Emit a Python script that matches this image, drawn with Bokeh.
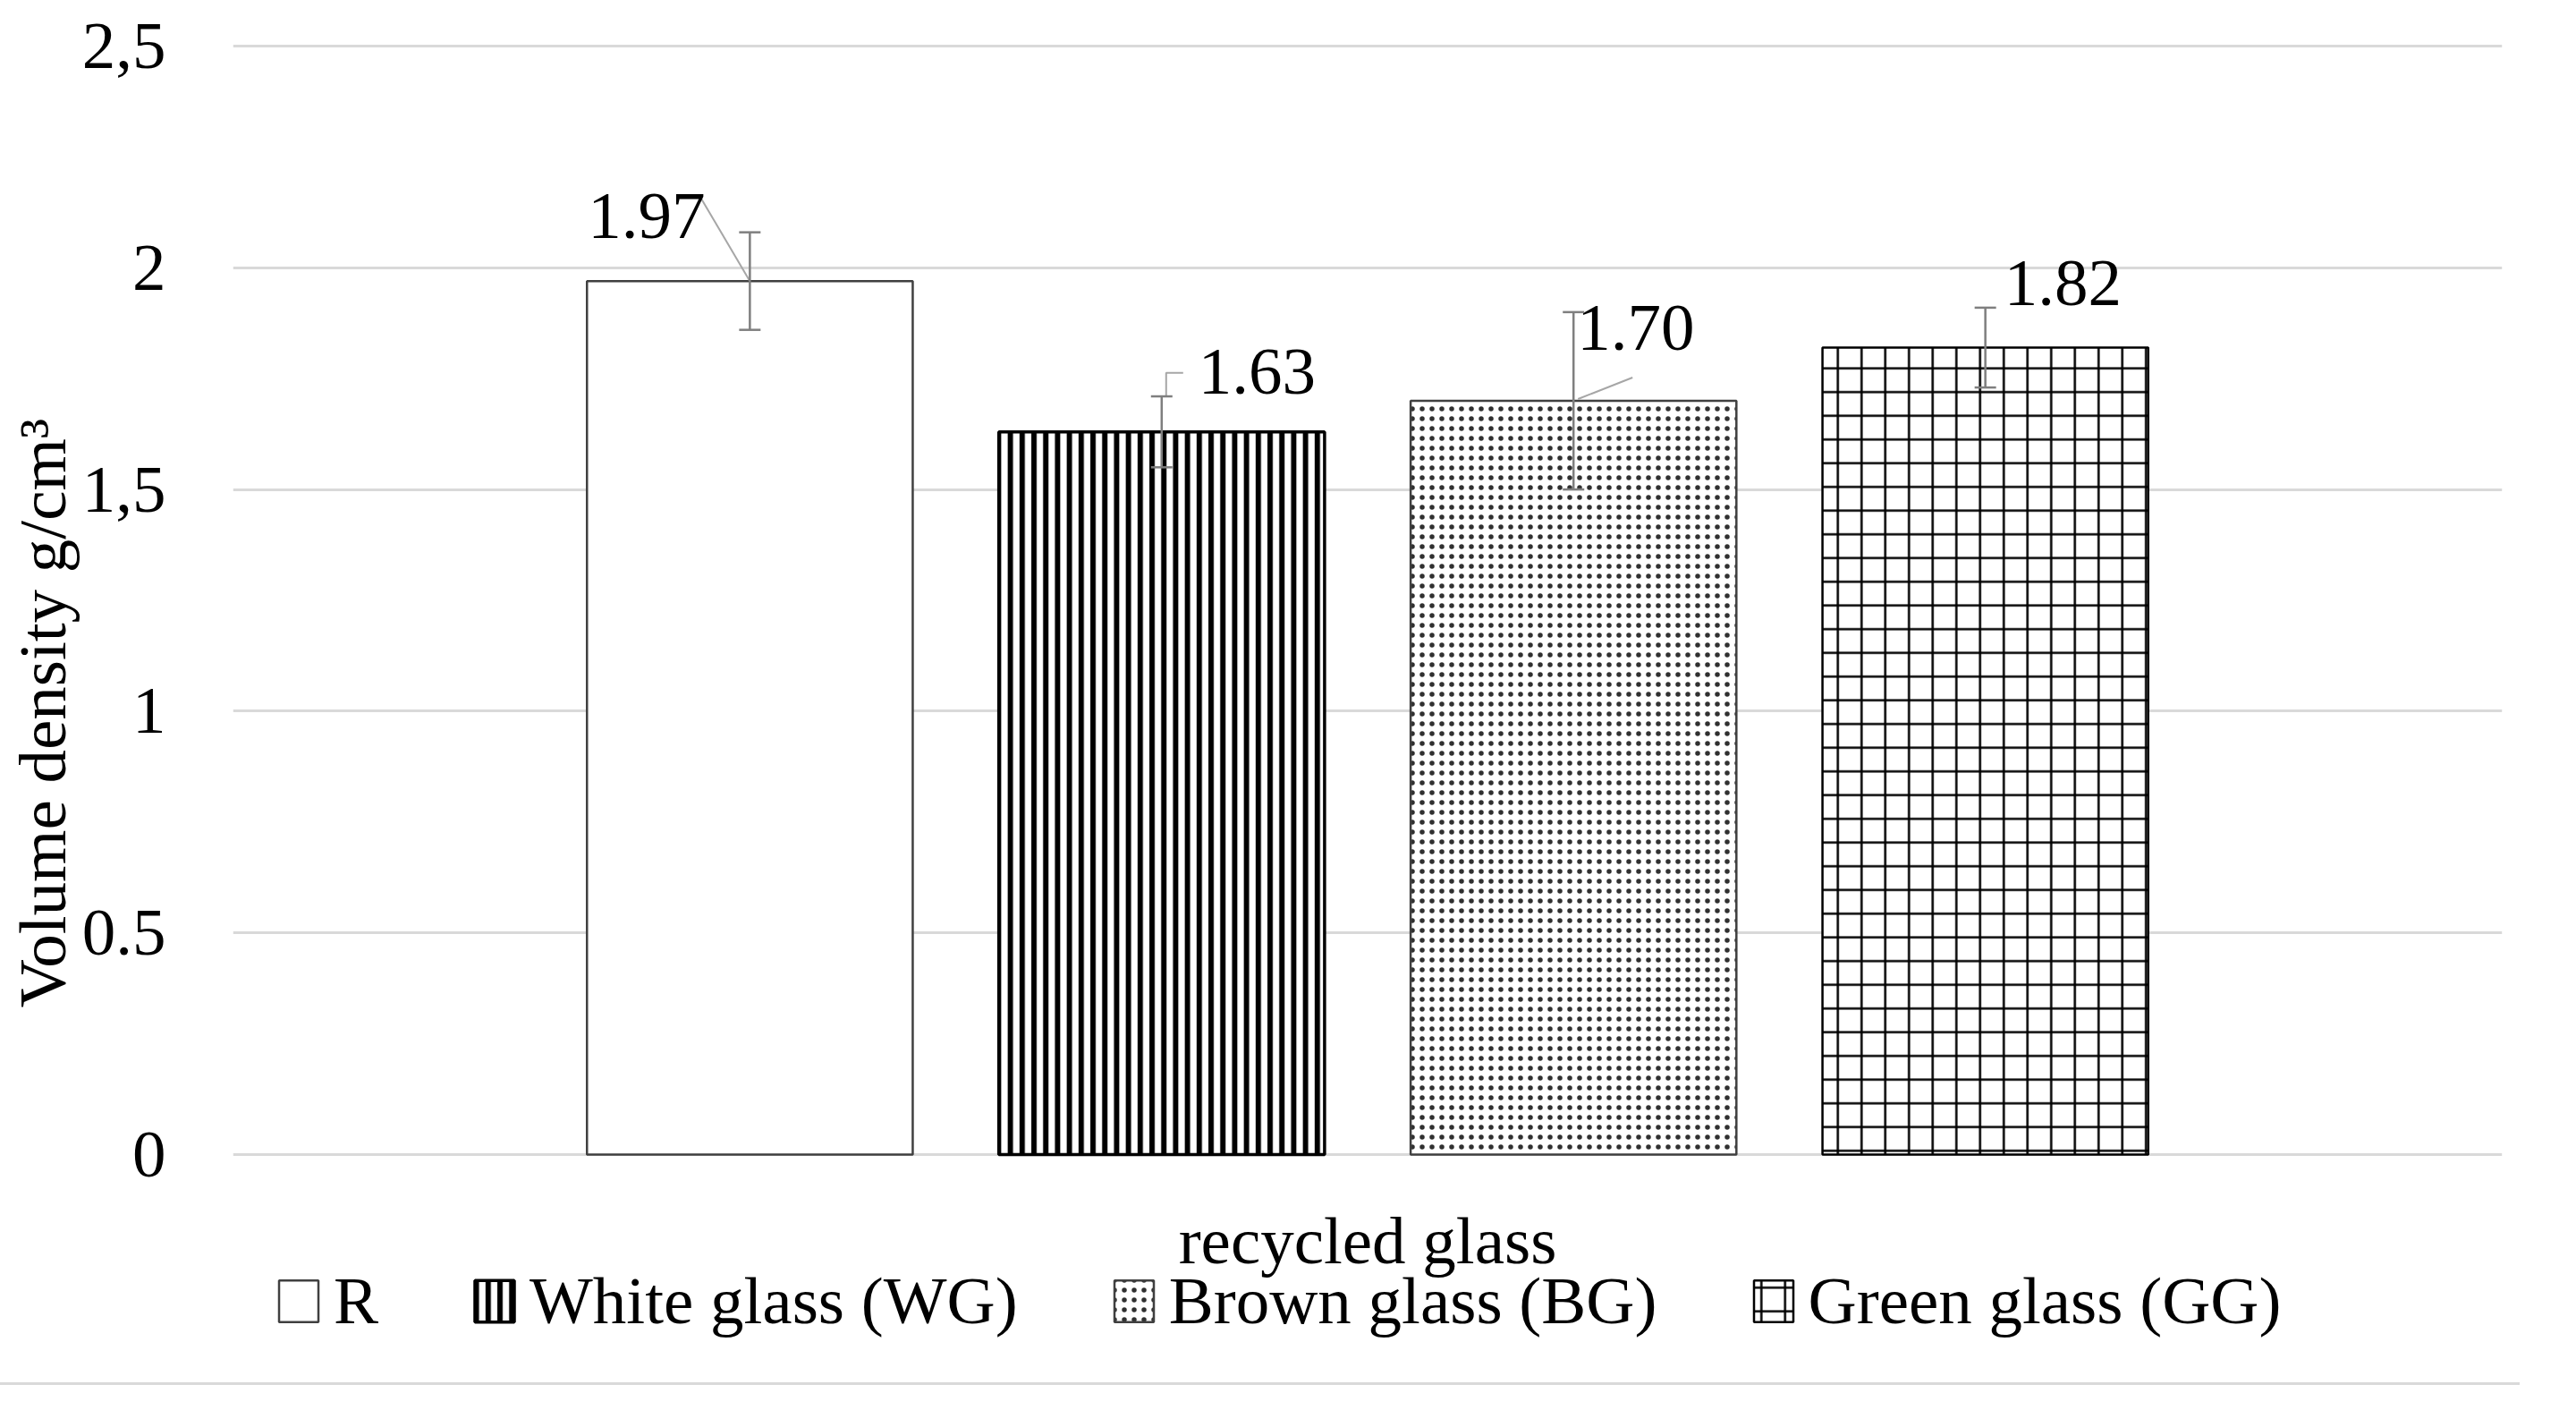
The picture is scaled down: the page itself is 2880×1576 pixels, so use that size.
import math
from bokeh.plotting import figure
from bokeh.models import (ColumnDataSource, Range1d, FixedTicker, Whisker, TeeHead,
                          Legend, LegendItem, Div)
from bokeh.layouts import column
from bokeh.embed import file_html
from bokeh.resources import INLINE
from bokeh.core.properties import value

# ---------------- data ----------------
series = ["R", "White glass (WG)", "Brown glass (BG)", "Green glass (GG)"]
category = "recycled glass"
density = [1.97, 1.63, 1.70, 1.82]
density_err = [0.11, 0.08, 0.20, 0.09]
value_labels = ["1.97", "1.63", "1.70", "1.82"]
y_ticks = [0, 0.5, 1, 1.5, 2, 2.5]
y_tick_labels = ["0", "0.5", "1", "1,5", "2", "2,5"]
y_title = "Volume density g/cm\u00b3"

# ---------------- styles / geometry ----------------
FONT = "Liberation Serif"
FS = "75px"
FRAME_LEFT, FRAME_TOP = 260, 48          # pixels
FRAME_W, FRAME_H = 2537, 1497
X0, X1 = -1.255, 4.255
PX_X = FRAME_W / (X1 - X0)
PX_Y = 495.6                               # pixels per unit on y
Y1 = 2.5 + 3 / PX_Y
Y0 = Y1 - FRAME_H / PX_Y
BAR_W = 0.791
TEXT_SHIFT = 27                            # baseline correction (px)

bar_styles = [
    dict(fill_color="white", line_color="#404040", line_width=2.5, hatch_pattern=" "),
    dict(fill_color="white", line_color="black", line_width=3.5, hatch_pattern="vertical_line",
         hatch_color="black", hatch_scale=13.2, hatch_weight=6),
    dict(fill_color="white", line_color="#404040", line_width=2.5, hatch_pattern="dot",
         hatch_color="#303030", hatch_scale=11, hatch_weight=3),
    dict(fill_color="white", line_color="black", line_width=2.5, hatch_pattern="cross",
         hatch_color="black", hatch_scale=26.5, hatch_weight=2.5),
]
# label offsets in pixels (left of text, baseline) relative to bar centre/top
label_off = [(-181, 46), (41, 40), (4, 54), (21, 45)]
# leader lines (pixel offsets from bar centre/top)
leaders = [
    [(-56, 95), (0, 0)],
    [(24, 66), (5, 66), (5, 40)],
    [(66, 26), (5, 2)],
    None,
]

p = figure(frame_width=FRAME_W, frame_height=FRAME_H,
           min_border_left=FRAME_LEFT, min_border_right=60, min_border_top=FRAME_TOP,
           min_border_bottom=0, x_axis_location=None,
           x_range=Range1d(X0, X1), y_range=Range1d(Y0, Y1),
           output_backend="svg", toolbar_location=None,
           background_fill_color="white", border_fill_color="white")
p.outline_line_color = None

xs = list(range(len(series)))
items = []
for i, name in enumerate(series):
    src = ColumnDataSource(dict(x=[xs[i]], top=[density[i]]))
    r = p.vbar(x="x", top="top", width=BAR_W, bottom=0, source=src, **bar_styles[i])
    items.append(LegendItem(label=name, renderers=[r]))

# error bars
err_src = ColumnDataSource(dict(
    x=xs,
    lo=[d - e for d, e in zip(density, density_err)],
    hi=[d + e for d, e in zip(density, density_err)],
))
head = dict(size=24, line_color="#7f7f7f", line_width=2.5)
p.add_layout(Whisker(base="x", lower="lo", upper="hi", source=err_src, dimension="height",
                     line_color="#7f7f7f", line_width=2.5, level="overlay",
                     upper_head=TeeHead(**head), lower_head=TeeHead(**head)))

# leader lines
lx, ly = [], []
for i, pts in enumerate(leaders):
    if not pts:
        continue
    lx.append([xs[i] + dx / PX_X for dx, dy in pts])
    ly.append([density[i] + dy / PX_Y for dx, dy in pts])
p.multi_line(xs=lx, ys=ly, line_color="#a6a6a6", line_width=2)

# value labels
tsrc = ColumnDataSource(dict(
    x=[xs[i] + label_off[i][0] / PX_X for i in range(len(xs))],
    y=[density[i] + (label_off[i][1] + TEXT_SHIFT) / PX_Y for i in range(len(xs))],
    t=value_labels,
))
p.text(x="x", y="y", text="t", source=tsrc, text_font=value(FONT), text_font_size=FS,
       text_align="left", text_baseline="alphabetic", text_color="black")

# category label under the bars
cx = (xs[0] + xs[-1]) / 2
p.text(x=[cx], y=[-(123 - TEXT_SHIFT) / PX_Y], text=[category], text_font=value(FONT),
       text_font_size=FS, text_align="center", text_baseline="alphabetic", text_color="black")

# y axis
p.xgrid.visible = False
p.ygrid.ticker = FixedTicker(ticks=y_ticks)
p.ygrid.grid_line_color = "#d9d9d9"
p.ygrid.grid_line_width = 3
p.yaxis.ticker = FixedTicker(ticks=y_ticks)
p.yaxis.major_label_overrides = {t: l for t, l in zip(y_ticks, y_tick_labels)}
p.yaxis.axis_line_color = None
p.yaxis.major_tick_line_color = None
p.yaxis.minor_tick_line_color = None
p.yaxis.major_label_standoff = 69
p.yaxis.major_label_text_font = FONT
p.yaxis.major_label_text_font_size = FS
p.yaxis.major_label_text_color = "black"
p.yaxis.axis_label = y_title
p.yaxis.axis_label_standoff = 0
p.yaxis.axis_label_text_font = FONT
p.yaxis.axis_label_text_font_size = FS
p.yaxis.axis_label_text_font_style = "normal"
p.yaxis.axis_label_text_color = "black"

legend = Legend(items=items, orientation="horizontal", location=(46, 48),
                spacing=102, glyph_width=55, glyph_height=58, label_standoff=12,
                padding=0, margin=0, border_line_alpha=0, background_fill_alpha=0,
                label_text_font=FONT, label_text_font_size=FS, label_text_color="black")
p.add_layout(legend, "center")

line = Div(width=2817, height=3, margin=0, styles={"background-color": "#d9d9d9"})
layout = column(p, line, spacing=0)

open("out.html", "w").write(file_html(layout, INLINE))
